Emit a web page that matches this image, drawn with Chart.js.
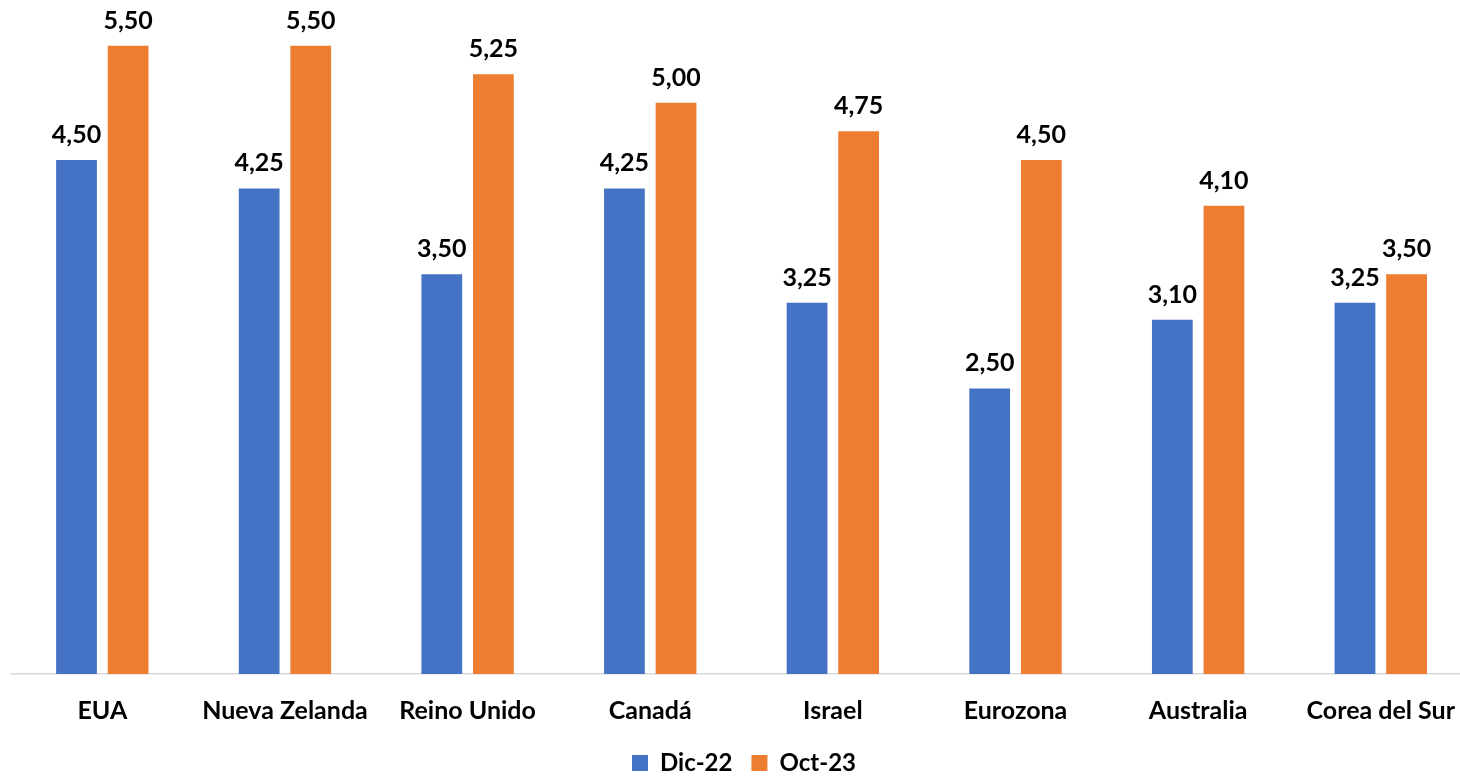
<!DOCTYPE html>
<html>
<head>
<meta charset="utf-8">
<script src="https://cdn.jsdelivr.net/npm/chart.js@4.4.0/dist/chart.umd.min.js"></script>
<style>
  html, body { margin: 0; padding: 0; background: #fff; overflow: hidden; }
  #wrap { width: 1477px; height: 776px; }
</style>
</head>
<body>
<div id="wrap"><canvas id="tasasChart"></canvas></div>
<script>
// Datos del gráfico
var paises = ["EUA", "Nueva Zelanda", "Reino Unido", "Canadá", "Israel", "Eurozona", "Australia", "Corea del Sur"];
var dic22 = [4.50, 4.25, 3.50, 4.25, 3.25, 2.50, 3.10, 3.25];
var oct23 = [5.50, 5.50, 5.25, 5.00, 4.75, 4.50, 4.10, 3.50];
var nombresSeries = ["Dic-22", "Oct-23"];

var FONT = "Lato, 'Open Sans', sans-serif";

// etiquetas de valor encima de cada barra
var etiquetasValor = {
    id: "etiquetasValor",
    afterDatasetsDraw: function (chart) {
        var ctx = chart.ctx;
        ctx.save();
        ctx.font = "bold 25px " + FONT;
        ctx.fillStyle = "#000";
        ctx.textAlign = "center";
        ctx.textBaseline = "alphabetic";
        chart.data.datasets.forEach(function (ds, i) {
            chart.getDatasetMeta(i).data.forEach(function (bar, j) {
                ctx.fillText(ds.data[j].toFixed(2).replace(".", ","), bar.x, bar.y - 17);
            });
        });
        ctx.restore();
    }
};

var ctx = document.getElementById("tasasChart").getContext("2d");

new Chart(ctx, {
    type: "bar",
    data: {
        labels: paises,
        datasets: [{
            label: nombresSeries[0],
            data: dic22,
            backgroundColor: "#4472C4",
            categoryPercentage: 0.565,
            barPercentage: 0.79
        }, {
            label: nombresSeries[1],
            data: oct23,
            backgroundColor: "#ED7D31",
            categoryPercentage: 0.565,
            barPercentage: 0.79
        }]
    },
    options: {
        responsive: true,
        maintainAspectRatio: false,
        animation: false,
        layout: { padding: { left: 11, right: 0, top: 0, bottom: -9 } },
        plugins: {
            legend: {
                position: "bottom",
                labels: {
                    boxWidth: 16,
                    boxHeight: 16,
                    padding: 19,
                    color: "#000",
                    font: { family: FONT, size: 24, weight: "bold" }
                }
            },
            tooltip: { enabled: false }
        },
        scales: {
            y: {
                display: false,
                min: 0,
                max: 5.9
            },
            x: {
                grid: { display: false, drawTicks: false },
                border: { display: true, color: "#d9d9d9", width: 1.5 },
                afterFit: function (scale) { scale.height = 58; },
                ticks: {
                    padding: 22,
                    color: "#000",
                    maxRotation: 0,
                    font: { family: FONT, size: 25, weight: "bold" }
                }
            }
        }
    },
    plugins: [etiquetasValor]
});
</script>
</body>
</html>
